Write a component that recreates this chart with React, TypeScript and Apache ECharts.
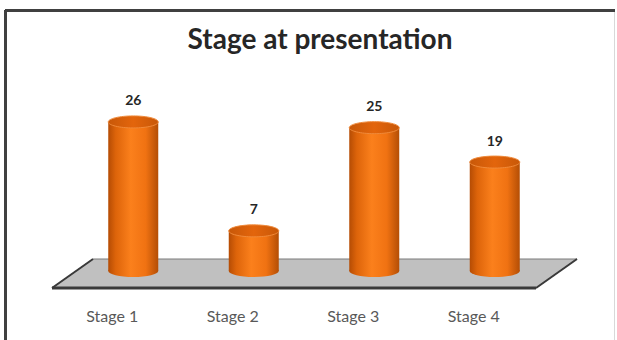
import React, { useEffect, useRef } from "react";
import * as echarts from "echarts";

const categories = ["Stage 1", "Stage 2", "Stage 3", "Stage 4"];
const values = [26, 7, 25, 19];
const titleText = "Stage at presentation";

export default function App() {
  const ref = useRef<HTMLDivElement>(null);
  useEffect(() => {
    if (!ref.current) return;
    const chart = echarts.init(ref.current, null, { renderer: "svg" });
    const bodyGrad = () =>
      new echarts.graphic.LinearGradient(0, 0, 1, 0, [
        { offset: 0, color: "#b54c04" },
        { offset: 0.15, color: "#dd640a" },
        { offset: 0.45, color: "#fb801c" },
        { offset: 0.75, color: "#f07212" },
        { offset: 1, color: "#b44e05" },
      ]);
    const topGrad = () =>
      new echarts.graphic.LinearGradient(0, 0, 1, 0, [
        { offset: 0, color: "#c85808" },
        { offset: 0.5, color: "#e3650c" },
        { offset: 1, color: "#c85808" },
      ]);
    chart.setOption({
      animation: false,
      backgroundColor: "#ffffff",
      title: {
        text: titleText,
        left: 315,
        top: 19,
        textAlign: "center",
        textStyle: { fontFamily: "Lato", fontWeight: "bold", fontSize: 28, color: "#262626" },
      },
      grid: { left: 73, right: 62, top: 99, bottom: 69 },
      xAxis: {
        type: "category",
        data: categories,
        axisLine: { show: false },
        axisTick: { show: false },
        axisLabel: {
          margin: 36,
          padding: [0, 42, 0, 0],
          fontFamily: "Lato",
          fontSize: 16,
          color: "#595959",
        },
      },
      yAxis: { type: "value", min: 0, max: 30, show: false },
      graphic: [
        {
          type: "polygon",
          z: 0,
          shape: { points: [[52, 288], [93, 259], [577, 259], [536, 288]] },
          style: { fill: "#c0c0c0", stroke: "#7a7a7a", lineWidth: 1 },
        },
        { type: "line", z: 1, shape: { x1: 52, y1: 288, x2: 536, y2: 288 }, style: { stroke: "#3a3a3a", lineWidth: 3 } },
        { type: "line", z: 1, shape: { x1: 52, y1: 288, x2: 93, y2: 259 }, style: { stroke: "#3a3a3a", lineWidth: 2 } },
        { type: "line", z: 1, shape: { x1: 536, y1: 288, x2: 577, y2: 259 }, style: { stroke: "#3a3a3a", lineWidth: 2 } },
        { type: "line", z: 1, shape: { x1: 5, y1: 10.5, x2: 615, y2: 10.5 }, style: { stroke: "#404040", lineWidth: 3 } },
        { type: "line", z: 1, shape: { x1: 5.5, y1: 10, x2: 5.5, y2: 340 }, style: { stroke: "#404040", lineWidth: 3 } },
        { type: "line", z: 1, shape: { x1: 614.5, y1: 12, x2: 614.5, y2: 340 }, style: { stroke: "#d8d8d8", lineWidth: 1 } },
      ],
      series: [
        {
          type: "custom",
          z: 5,
          data: categories.map((c, i) => [i, values[i]]),
          encode: { x: 0, y: 1 },
          renderItem: (params: any, api: any) => {
            const v = api.value(1);
            const top = api.coord([api.value(0), v]);
            const base = api.coord([api.value(0), 0]);
            const cx = top[0];
            const rx = 25;
            const ry = 6;
            return {
              type: "group",
              children: [
                {
                  type: "ellipse",
                  shape: { cx, cy: base[1], rx, ry },
                  style: { fill: bodyGrad() },
                },
                {
                  type: "rect",
                  shape: { x: cx - rx, y: top[1], width: rx * 2, height: base[1] - top[1] },
                  style: { fill: bodyGrad() },
                },
                {
                  type: "ellipse",
                  shape: { cx, cy: top[1], rx, ry },
                  style: { fill: topGrad(), stroke: "#f08a3a", lineWidth: 1 },
                },
                {
                  type: "text",
                  style: {
                    text: String(v),
                    x: cx,
                    y: top[1] - ry - 9,
                    align: "center",
                    verticalAlign: "bottom",
                    fontFamily: "Lato",
                    fontWeight: "bold",
                    fontSize: 14,
                    fill: "#262626",
                  },
                },
              ],
            };
          },
        },
      ],
    });
    return () => chart.dispose();
  }, []);
  return (
    <div
      ref={ref}
      style={{ position: "absolute", left: 0, top: 0, width: 617, height: 340 }}
    />
  );
}
